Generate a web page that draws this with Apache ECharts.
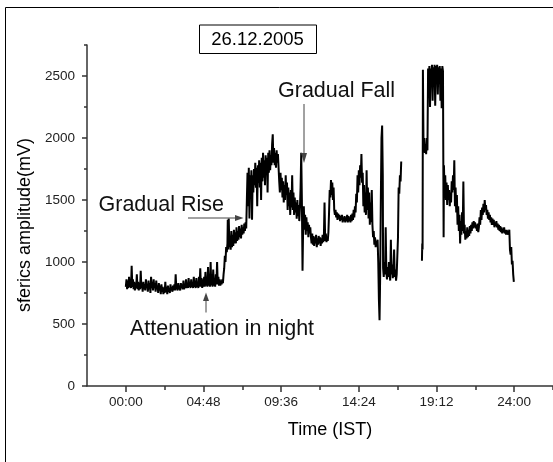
<!DOCTYPE html>
<html>
<head>
<meta charset="utf-8">
<script src="https://cdn.jsdelivr.net/npm/echarts@6/dist/echarts.min.js"></script>
<style>html,body{margin:0;padding:0;background:#fff}#chart{width:553px;height:462px}</style>
</head>
<body>
<div id="chart"></div>
<script>
// axis ticks (hours / mV)
var timeTicks = [0, 4.8, 9.6, 14.4, 19.2, 24];
var timeLabels = ['00:00', '04:48', '09:36', '14:24', '19:12', '24:00'];
var timeMinor = [2.4, 7.2, 12, 16.8, 21.6, 26.4];
var ampTicks = [0, 500, 1000, 1500, 2000, 2500];
var ampMinor = [250, 750, 1250, 1750, 2250, 2750];

// sferics amplitude, [hour, mV]
var traceA = [
 [0.00,800],[0.04,860],[0.08,780],[0.12,850],[0.16,790],[0.20,880],[0.24,800],[0.28,830],[0.32,790],[0.36,970],
 [0.40,800],[0.44,860],[0.48,780],[0.52,840],[0.56,770],[0.60,830],[0.64,790],[0.68,900],[0.72,780],[0.76,840],
 [0.80,770],[0.84,820],[0.88,780],[0.92,930],[0.96,790],[1.00,830],[1.04,760],[1.08,840],[1.12,780],[1.16,820],
 [1.20,770],[1.24,860],[1.28,790],[1.32,820],[1.36,760],[1.40,850],[1.44,780],[1.48,830],[1.52,750],[1.56,880],
 [1.60,790],[1.64,840],[1.68,770],[1.72,860],[1.76,790],[1.80,830],[1.84,760],[1.88,850],[1.92,780],[1.96,810],
 [2.00,750],[2.04,830],[2.08,770],[2.12,810],[2.16,740],[2.20,820],[2.24,760],[2.28,800],[2.32,740],[2.36,790],
 [2.40,750],[2.44,840],[2.48,760],[2.52,800],[2.56,740],[2.60,810],[2.64,760],[2.68,790],[2.72,750],[2.76,820],
 [2.80,770],[2.84,800],[2.88,760],[2.92,810],[2.96,770],[3.00,820],[3.04,770],[3.08,900],[3.12,780],[3.16,810],
 [3.20,770],[3.24,830],[3.28,780],[3.32,810],[3.36,770],[3.40,830],[3.44,790],[3.48,820],[3.52,780],[3.56,850],
 [3.60,780],[3.64,820],[3.68,790],[3.72,860],[3.76,790],[3.80,830],[3.84,790],[3.88,870],[3.92,800],[3.96,840],
 [4.00,790],[4.04,860],[4.08,800],[4.12,830],[4.16,790],[4.20,880],[4.24,800],[4.28,850],[4.32,790],[4.36,870],
 [4.40,800],[4.44,840],[4.48,790],[4.52,880],[4.56,800],[4.60,950],[4.64,800],[4.68,870],[4.72,790],[4.76,860],
 [4.80,800],[4.84,880],[4.88,800],[4.92,920],[4.96,810],[5.00,870],[5.04,800],[5.08,960],[5.12,810],[5.16,880],
 [5.20,800],[5.24,1000],[5.28,810],[5.32,900],[5.36,800],[5.40,940],[5.44,810],[5.48,870],[5.52,800],[5.56,900],
 [5.60,820],[5.64,1000],[5.68,820],[5.72,880],[5.76,810],[5.80,860],[5.84,810],[5.88,850],[5.92,820],[5.96,860],
 [6.00,830],[6.04,900],[6.08,950],[6.12,1050],[6.16,1000],[6.20,1120],[6.24,1080],[6.28,1150],[6.30,1340],[6.33,1100],
 [6.36,1350],[6.40,1120],[6.44,1200],[6.48,1100],[6.52,1250],[6.56,1120],[6.60,1220],[6.64,1130],[6.68,1260],[6.72,1150],
 [6.76,1240],[6.80,1150],[6.84,1280],[6.88,1170],[6.92,1250],[6.96,1180],[7.00,1290],[7.04,1200],[7.08,1270],[7.12,1190],
 [7.16,1300],[7.20,1220],[7.24,1280],[7.28,1230],[7.32,1310],[7.36,1250],[7.40,1320],[7.44,1270],[7.48,1500],[7.52,1720],
 [7.56,1450],[7.60,1760],[7.64,1350],[7.68,1700],[7.72,1550],[7.76,1740],[7.80,1340],[7.84,1700],[7.88,1560],[7.92,1750],
 [7.96,1620],[8.00,1800],[8.04,1600],[8.08,1760],[8.12,1450],[8.16,1780],[8.20,1640],[8.24,1820],[8.28,1600],[8.32,1800],
 [8.36,1500],[8.40,1840],[8.44,1650],[8.48,1880],[8.52,1680],[8.56,1820],[8.60,1620],[8.64,1860],[8.68,1700],[8.72,1840],
 [8.76,1560],[8.80,1880],[8.84,1720],[8.88,1900],[8.92,1740],[8.96,1860],[9.00,1780],[9.04,1950],[9.08,2030],[9.12,1800],
 [9.16,1920],[9.20,1780],[9.24,1880],[9.28,1760],[9.32,1900],[9.36,1800],[9.40,1870],[9.44,1760],[9.48,1650],[9.52,1560],
 [9.56,1720],[9.60,1580],[9.64,1680],[9.68,1520],[9.72,1650],[9.76,1480],[9.80,1620],[9.84,1500],[9.88,1700],[9.92,1540],
 [9.96,1640],[10.00,1420],[10.04,1600],[10.08,1450],[10.12,1560],[10.16,1380],[10.20,1580],[10.24,1440],[10.28,1700],[10.32,1420],
 [10.36,1560],[10.40,1380],[10.44,1520],[10.48,1400],[10.52,1480],[10.56,1350],[10.60,1500],[10.64,1370],[10.68,1460],[10.72,1330],
 [10.76,1440],[10.80,1600],[10.84,1880],[10.88,1500],[10.92,930],[10.96,1300],[11.00,1450],[11.04,1260],[11.08,1380],[11.12,1220],
 [11.16,1360],[11.20,1250],[11.24,1320],[11.28,1200],[11.32,1300],[11.36,1230],[11.40,1280],[11.44,1200],[11.48,1150],[11.52,1230],
 [11.56,1140],[11.60,1210],[11.64,1130],[11.68,1200],[11.72,1150],[11.76,1220],[11.80,1120],[11.84,1190],[11.88,1140],[11.92,1210],
 [11.96,1150],[12.00,1200],[12.04,1130],[12.08,1190],[12.12,1150],[12.16,1220],[12.20,1160],[12.24,1200],[12.28,1480],[12.32,1170],
 [12.36,1230],[12.40,1160],[12.44,1200],[12.48,1170],[12.52,1240],[12.56,1400],[12.60,1580],[12.64,1520],[12.68,1660],[12.72,1540],
 [12.76,1640],[12.80,1500],[12.84,1600],[12.88,1420],[12.92,1380],[12.96,1420],[13.00,1360],[13.04,1400],[13.08,1340],[13.12,1390],
 [13.16,1350],[13.20,1380],[13.24,1330],[13.28,1370],[13.32,1340],[13.36,1380],[13.40,1320],[13.44,1360],[13.48,1330],[13.52,1370],
 [13.56,1320],[13.60,1360],[13.64,1330],[13.68,1380],[13.72,1320],[13.76,1370],[13.80,1330],[13.84,1360],[13.88,1320],[13.92,1380],
 [13.96,1330],[14.00,1390],[14.04,1340],[14.08,1420],[14.12,1360],[14.16,1450],[14.20,1400],[14.24,1550],[14.28,1480],[14.32,1700],
 [14.36,1560],[14.40,1740],[14.44,1620],[14.48,1780],[14.52,1680],[14.56,1870],[14.60,1640],[14.64,1720],[14.68,1450],[14.72,1620],
 [14.76,1400],[14.80,1560],[14.84,1380],[14.88,1740],[14.92,1420],[14.96,1600],[15.00,1350],[15.04,1560],[15.08,1300],[15.12,1480],
 [15.16,1320],[15.20,1580],[15.24,1300],[15.28,1200],[15.32,1250],[15.36,1140],[15.40,1200],[15.44,1120],[15.48,1170],[15.52,1130],
 [15.56,1180],[15.60,1000],[15.64,700],[15.68,530],[15.72,900],[15.76,1500],[15.80,2000],[15.84,2100],[15.88,1700],[15.90,950],
 [15.94,880],[15.98,1000],[16.02,900],[16.06,1280],[16.10,920],[16.14,860],[16.18,960],[16.22,880],[16.26,1000],[16.30,900],
 [16.34,850],[16.38,1180],[16.42,900],[16.46,980],[16.50,870],[16.54,950],[16.58,1100],[16.62,880],[16.66,940],[16.70,850],
 [16.74,900],[16.78,1050],[16.82,1200],[16.86,1600],[16.90,1550],[16.94,1700],[16.98,1650],[17.02,1810]
];

var traceB = [
 [18.30,1010],[18.32,1150],[18.34,1100],[18.36,2550],[18.40,1900],[18.44,2000],[18.48,1880],[18.52,1950],[18.56,1870],[18.60,2000],
 [18.64,1900],[18.68,2560],[18.72,2400],[18.76,2580],[18.80,2250],[18.84,2560],[18.88,2450],[18.92,2590],[18.96,2300],[19.00,2570],
 [19.04,2480],[19.08,2590],[19.12,2260],[19.16,2580],[19.20,2500],[19.24,2590],[19.28,2350],[19.32,2570],[19.36,2480],[19.40,2580],
 [19.44,2300],[19.48,2560],[19.52,2240],[19.56,2580],[19.60,2540],[19.64,1200],[19.66,1780],[19.70,1550],[19.74,1700],[19.78,1500],
 [19.82,1640],[19.86,1460],[19.90,1620],[19.94,1500],[19.98,1580],[20.02,1450],[20.06,1560],[20.10,1480],[20.14,1650],[20.18,1560],
 [20.22,1700],[20.26,1580],[20.30,1820],[20.34,1450],[20.38,1600],[20.42,1400],[20.46,1540],[20.50,1300],[20.54,1450],[20.58,1250],
 [20.62,1380],[20.66,1150],[20.70,1330],[20.74,1220],[20.78,1400],[20.82,1250],[20.86,1650],[20.90,1230],[20.94,1300],[20.98,1180],
 [21.02,1250],[21.06,1190],[21.10,1280],[21.14,1200],[21.18,1260],[21.22,1210],[21.26,1290],[21.30,1230],[21.34,1300],[21.38,1250],
 [21.42,1320],[21.46,1270],[21.50,1330],[21.54,1280],[21.58,1320],[21.62,1270],[21.66,1300],[21.70,1250],[21.74,1310],[21.78,1240],
 [21.82,1280],[21.86,1360],[21.90,1300],[21.94,1420],[21.98,1340],[22.02,1440],[22.06,1380],[22.10,1470],[22.14,1400],[22.18,1500],
 [22.22,1420],[22.26,1460],[22.30,1380],[22.34,1420],[22.38,1350],[22.42,1400],[22.46,1340],[22.50,1380],[22.54,1320],[22.58,1360],
 [22.62,1300],[22.66,1350],[22.70,1300],[22.74,1340],[22.78,1280],[22.82,1320],[22.86,1290],[22.90,1330],[22.94,1280],[22.98,1310],
 [23.02,1260],[23.06,1300],[23.10,1250],[23.14,1290],[23.18,1240],[23.22,1280],[23.26,1230],[23.30,1270],[23.34,1240],[23.38,1280],
 [23.42,1230],[23.46,1260],[23.50,1220],[23.54,1260],[23.58,1220],[23.62,1250],[23.66,1230],[23.70,1260],[23.74,1100],[23.78,1060],
 [23.82,1120],[23.86,980],[23.90,1010],[23.94,900],[23.98,840]
];

var dom = document.getElementById('chart');
var myChart = echarts.init(dom, null, {renderer: 'canvas'});

var FONT = '"Liberation Sans", Arial, sans-serif';
var axisCol = '#333';

function hourLabel(v) {
  for (var i = 0; i < timeTicks.length; i++) {
    if (Math.abs(timeTicks[i] - v) < 1e-6) return timeLabels[i];
  }
  return '';
}

function arrowHead(pts) {
  return {type: 'polygon', shape: {points: pts}, style: {fill: '#444'}, z: 10};
}
function arrowLine(x1, y1, x2, y2) {
  return {type: 'line', shape: {x1: x1, y1: y1, x2: x2, y2: y2}, style: {stroke: '#444', lineWidth: 1}, z: 10};
}
function label(txt, x, y, size) {
  return {type: 'text', x: x, y: y, z: 10,
    style: {text: txt, font: size + 'px ' + FONT, fill: '#111', textAlign: 'left', textVerticalAlign: 'bottom'}};
}

var lineStyle = {color: '#000', width: 2};

var option = {
  animation: false,
  backgroundColor: '#fff',
  grid: {left: 87, right: -20, top: 45, bottom: 76},
  xAxis: [{
    type: 'value', min: -2.4, max: 26.4, position: 'bottom',
    axisLine: {onZero: false, lineStyle: {color: axisCol, width: 1.5}},
    axisTick: {customValues: timeTicks, length: 6, lineStyle: {color: axisCol, width: 1.5}},
    axisLabel: {customValues: timeTicks, formatter: hourLabel, margin: 9, fontSize: 13.5, color: '#222', fontFamily: FONT},
    splitLine: {show: false}
  }, {
    type: 'value', min: -2.4, max: 26.4, position: 'bottom',
    axisLine: {show: false, onZero: false},
    axisTick: {customValues: timeMinor, length: 4, lineStyle: {color: axisCol, width: 1.5}},
    axisLabel: {show: false},
    splitLine: {show: false}
  }],
  yAxis: [{
    type: 'value', min: 0, max: 2750, position: 'left',
    axisLine: {show: true, onZero: false, lineStyle: {color: axisCol, width: 1.5}},
    axisTick: {show: true, customValues: ampTicks, length: 5, lineStyle: {color: axisCol, width: 1.5}},
    axisLabel: {customValues: ampTicks, formatter: function (v) { return String(v); }, margin: 12, fontSize: 13.5, color: '#222', fontFamily: FONT},
    splitLine: {show: false}
  }, {
    type: 'value', min: 0, max: 2750, position: 'left',
    axisLine: {show: false, onZero: false},
    axisTick: {show: true, customValues: ampMinor, length: 3, lineStyle: {color: axisCol, width: 1.5}},
    axisLabel: {show: false},
    splitLine: {show: false}
  }],
  series: [{
    name: 'day', type: 'line', xAxisIndex: 0, yAxisIndex: 0,
    data: traceA, showSymbol: false, symbol: 'none', lineStyle: lineStyle
  }, {
    name: 'evening', type: 'line', xAxisIndex: 0, yAxisIndex: 0,
    data: traceB, showSymbol: false, symbol: 'none', lineStyle: lineStyle
  }],
  graphic: [
    // outer frame
    {type: 'rect', shape: {x: 5.5, y: 7.5, width: 700, height: 600}, style: {fill: null, stroke: '#000', lineWidth: 1}, silent: true},
    // date box
    {type: 'rect', shape: {x: 199.5, y: 25, width: 117, height: 28.5}, style: {fill: '#fff', stroke: '#000', lineWidth: 1}},
    {type: 'text', x: 257.5, y: 39.5, style: {text: '26.12.2005', font: '18.5px ' + FONT, fill: '#000', textAlign: 'center', textVerticalAlign: 'middle'}},
    // axis names
    {type: 'text', x: 330, y: 430, style: {text: 'Time (IST)', font: '18px ' + FONT, fill: '#000', textAlign: 'center', textVerticalAlign: 'middle'}},
    {type: 'text', x: 25, y: 225, rotation: Math.PI / 2, style: {text: 'sferics amplitude(mV)', font: '18px ' + FONT, fill: '#000', textAlign: 'center', textVerticalAlign: 'middle'}},
    // annotations
    label('Gradual Fall', 278, 102, 21.5),
    arrowLine(304, 104, 304, 155),
    arrowHead([[301, 153], [307, 153], [304, 163]]),
    label('Gradual Rise', 98.5, 216, 21.5),
    arrowLine(188, 218, 237, 218),
    arrowHead([[235, 215], [235, 221], [243.5, 218]]),
    label('Attenuation in night', 130, 340, 21.5),
    arrowLine(206, 312.5, 206, 300),
    arrowHead([[203, 301], [209, 301], [206, 292.5]])
  ]
};

myChart.setOption(option);
</script>
</body>
</html>
